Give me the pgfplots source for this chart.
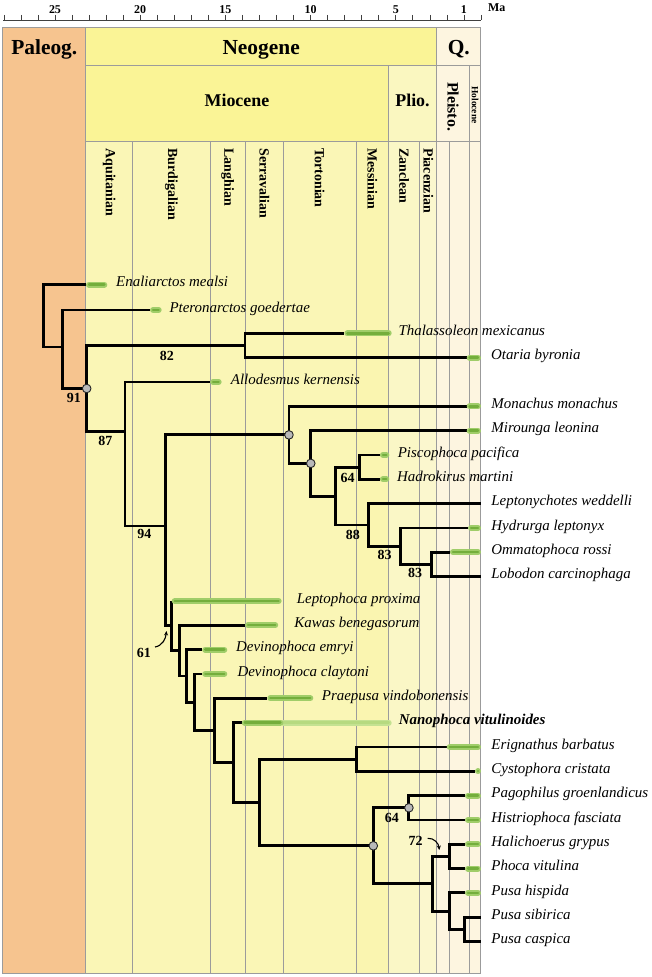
\documentclass[border=0pt]{standalone}
\usepackage{pgfplots}
\pgfplotsset{compat=1.18}
\usepackage{fontspec}
\setmainfont{Liberation Serif}
\usetikzlibrary{arrows.meta}
\definecolor{paleog}{RGB}{246,196,143}
\definecolor{neoY}{RGB}{250,244,150}
\definecolor{plioY}{RGB}{250,247,192}
\definecolor{qC}{RGB}{253,245,224}
\definecolor{mioA}{RGB}{250,246,182}
\definecolor{messA}{RGB}{250,245,176}
\definecolor{plioA}{RGB}{250,247,198}
\definecolor{piacA}{RGB}{251,247,206}
\definecolor{gridgray}{RGB}{155,155,155}
\definecolor{barout}{RGB}{160,205,105}
\definecolor{barin}{RGB}{116,174,60}
\definecolor{lbarout}{RGB}{196,226,146}
\definecolor{lbarin}{RGB}{182,218,128}
\newcommand{\fbar}[3]{%
  \addplot[draw=barout, line width=6bp, line cap=round, shorten <=3bp, shorten >=3bp] coordinates {(#1,#3) (#2,#3)};
  \addplot[draw=barin, line width=2.4bp, line cap=round, shorten <=3bp, shorten >=3bp] coordinates {(#1,#3) (#2,#3)};
}
\newcommand{\gbox}[5]{\filldraw[fill=#5, draw=gridgray, line width=1bp] (axis cs:#1,#3) rectangle (axis cs:#2,#4);}
\begin{document}
\begin{tikzpicture}
\begin{axis}[
  scale only axis, width=478.3bp, height=957bp,
  xmin=0, xmax=28.07, x dir=reverse,
  ymin=-977, ymax=-20,
  axis x line*=top, axis y line=none, ytick=\empty,
  x axis line style={-, black!75, line width=0.8bp},
  xtick={25,20,15,10,5,1},
  xticklabels={\textbf{25},\textbf{20},\textbf{15},\textbf{10},\textbf{5},\textbf{1}},
  minor xtick={0,1,...,28},
  tick align=outside,
  major tick length=5bp, minor tick length=5bp,
  every tick/.style={black!75, line width=0.7bp},
  xticklabel style={font=\fontsize{12}{14}\selectfont\bfseries, inner sep=1bp},
  clip=false,
]
\path (axis cs:28.228,0) rectangle (axis cs:-10.035,-977);
% --- chronostratigraphic boxes ---
\gbox{28.07}{23.2}{-27.3}{-974}{paleog}
\gbox{23.2}{2.6}{-27.3}{-65.3}{neoY}
\gbox{2.6}{0}{-27.3}{-65.3}{qC}
\gbox{23.2}{5.44}{-65.3}{-141.3}{neoY}
\gbox{5.44}{2.6}{-65.3}{-141.3}{plioY}
\gbox{2.6}{0.69}{-65.3}{-141.3}{qC}
\gbox{0.69}{0}{-65.3}{-141.3}{qC}
\gbox{23.2}{20.44}{-141.3}{-974}{mioA}
\gbox{20.44}{15.9}{-141.3}{-974}{mioA}
\gbox{15.9}{13.82}{-141.3}{-974}{mioA}
\gbox{13.82}{11.6}{-141.3}{-974}{mioA}
\gbox{11.6}{7.3}{-141.3}{-974}{mioA}
\gbox{7.3}{5.44}{-141.3}{-974}{messA}
\gbox{5.44}{3.6}{-141.3}{-974}{plioA}
\gbox{3.6}{2.6}{-141.3}{-974}{piacA}
\gbox{2.6}{1.86}{-141.3}{-974}{qC}
\gbox{1.86}{0.69}{-141.3}{-974}{qC}
\gbox{0.69}{0}{-141.3}{-974}{qC}
% header text
\node[anchor=base, inner sep=0, font=\fontsize{21.5}{24}\selectfont\bfseries] at (axis cs:25.63,-55) {Paleog.};
\node[anchor=base, inner sep=0, font=\fontsize{21.5}{24}\selectfont\bfseries] at (axis cs:12.90,-55) {Neogene};
\node[anchor=base, inner sep=0, font=\fontsize{21.5}{24}\selectfont\bfseries] at (axis cs:1.30,-55) {Q.};
\node[anchor=base, inner sep=0, font=\fontsize{18}{20}\selectfont\bfseries] at (axis cs:14.32,-106.7) {Miocene};
\node[anchor=base, inner sep=0, font=\fontsize{18}{20}\selectfont\bfseries] at (axis cs:4.02,-106.7) {Plio.};
\node[rotate=-90, anchor=center, inner sep=0, font=\fontsize{16}{18}\selectfont\bfseries] at (axis cs:1.64,-106.7) {Pleisto.};
\node[rotate=-90, anchor=center, inner sep=0, font=\fontsize{9.5}{11}\selectfont\bfseries] at (axis cs:0.34,-105) {Holocene};
\begin{scope}[every node/.style={rotate=-90, anchor=west, inner sep=0, font=\fontsize{14}{16}\selectfont\bfseries}]
\node at (axis cs:21.82,-148.3) {Aquitanian};
\node at (axis cs:18.17,-148.3) {Burdigalian};
\node at (axis cs:14.86,-148.3) {Langhian};
\node at (axis cs:12.71,-148.3) {Serravalian};
\node at (axis cs:9.47,-148.3) {Tortonian};
\node at (axis cs:6.38,-148.3) {Messinian};
\node at (axis cs:4.51,-148.3) {Zanclean};
\node at (axis cs:3.09,-148.3) {Piacenzian};
\end{scope}
\node[anchor=west, inner sep=0, font=\fontsize{12}{14}\selectfont\bfseries] at (axis cs:-0.41,-7.5) {Ma};
% --- tree ---
\pgfplotsset{tree/.style={black, line width=2.9bp, line join=miter, mark=none}}
\addplot[tree] coordinates {(23.18,-284.7) (25.69,-284.7) (25.69,-347.0) (24.55,-347.0)};
\addplot[tree] coordinates {(19.42,-310.0) (24.55,-310.0) (24.55,-388.5) (23.14,-388.5)};
\addplot[tree] coordinates {(13.85,-345.5) (23.14,-345.5) (23.14,-431.7) (20.89,-431.7)};
\addplot[tree] coordinates {(8.02,-333.4) (13.85,-333.4) (13.85,-357.7) (0.84,-357.7)};
\addplot[tree] coordinates {(15.90,-382.0) (20.89,-382.0) (20.89,-526.0) (18.54,-526.0)};
\addplot[tree] coordinates {(11.27,-434.9) (18.54,-434.9) (18.54,-625.9) (18.15,-625.9)};
\addplot[tree] coordinates {(0.84,-406.4) (11.27,-406.4) (11.27,-463.4) (9.99,-463.4)};
\addplot[tree] coordinates {(0.84,-430.7) (9.99,-430.7) (9.99,-496.1) (8.53,-496.1)};
\addplot[tree] coordinates {(7.12,-467.2) (8.53,-467.2) (8.53,-525.0) (6.61,-525.0)};
\addplot[tree] coordinates {(5.93,-455.0) (7.12,-455.0) (7.12,-479.3) (5.93,-479.3)};
\addplot[tree] coordinates {(0,-503.7) (6.61,-503.7) (6.61,-546.3) (4.75,-546.3)};
\addplot[tree] coordinates {(0.76,-528.0) (4.75,-528.0) (4.75,-564.5) (2.93,-564.5)};
\addplot[tree] coordinates {(1.82,-552.3) (2.93,-552.3) (2.93,-576.7) (0,-576.7)};
\addplot[tree] coordinates {(18.15,-601.0) (18.15,-650.7) (17.71,-650.7)};
\addplot[tree] coordinates {(13.85,-625.3) (17.71,-625.3) (17.71,-676.0) (17.27,-676.0)};
\addplot[tree] coordinates {(16.36,-649.7) (17.27,-649.7) (17.27,-702.3) (16.83,-702.3)};
\addplot[tree] coordinates {(16.36,-674.0) (16.83,-674.0) (16.83,-730.5) (15.65,-730.5)};
\addplot[tree] coordinates {(12.54,-698.3) (15.65,-698.3) (15.65,-762.6) (14.50,-762.6)};
\addplot[tree] coordinates {(14.04,-722.6) (14.50,-722.6) (14.50,-802.5) (13.01,-802.5)};
\addplot[tree] coordinates {(7.29,-759.2) (13.01,-759.2) (13.01,-845.8) (6.32,-845.8)};
\addplot[tree] coordinates {(2.01,-747.0) (7.29,-747.0) (7.29,-771.3) (0.35,-771.3)};
\addplot[tree] coordinates {(4.23,-807.8) (6.32,-807.8) (6.32,-883.8) (2.83,-883.8)};
\addplot[tree] coordinates {(0.94,-795.6) (4.23,-795.6) (4.23,-820.0) (0.94,-820.0)};
\addplot[tree] coordinates {(1.86,-856.5) (2.83,-856.5) (2.83,-911.2) (1.86,-911.2)};
\addplot[tree] coordinates {(0.94,-844.3) (1.86,-844.3) (1.86,-868.6) (0.94,-868.6)};
\addplot[tree] coordinates {(0.94,-892.9) (1.86,-892.9) (1.86,-929.5) (0.98,-929.5)};
\addplot[tree] coordinates {(0,-917.3) (0.98,-917.3) (0.98,-941.6) (0,-941.6)};
% --- stratigraphic range bars ---
\fbar{23.18}{21.93}{-284.7}
\fbar{19.42}{18.74}{-310.0}
\fbar{8.02}{5.24}{-333.4}
\fbar{0.84}{0}{-357.7}
\fbar{15.90}{15.22}{-382.0}
\fbar{0.84}{0}{-406.4}
\fbar{0.84}{0}{-430.7}
\fbar{5.93}{5.38}{-455.0}
\fbar{5.93}{5.38}{-479.3}
\fbar{0.76}{0}{-528.0}
\fbar{1.82}{0}{-552.3}
\fbar{18.15}{11.70}{-601.0}
\fbar{13.85}{11.90}{-625.3}
\fbar{16.36}{14.89}{-649.7}
\fbar{16.36}{14.89}{-674.0}
\fbar{12.54}{9.84}{-698.3}
\addplot[draw=lbarout, line width=6bp, line cap=round, shorten >=3bp] coordinates {(11.60,-722.6) (5.24,-722.6)};
\addplot[draw=lbarin, line width=2.4bp, line cap=round, shorten >=3bp] coordinates {(11.60,-722.6) (5.24,-722.6)};
\fbar{14.04}{11.60}{-722.6}
\fbar{2.01}{0}{-747.0}
\fbar{0.35}{0}{-771.3}
\fbar{0.94}{0}{-795.6}
\fbar{0.94}{0}{-820.0}
\fbar{0.94}{0}{-844.3}
\fbar{0.94}{0}{-868.6}
\fbar{0.94}{0}{-892.9}
% --- node circles ---
\addplot[only marks, mark=*, mark size=4.3bp, mark options={draw=black!85, line width=0.9bp, fill=gray!55}] coordinates {(23.14,-388.5) (11.27,-434.9) (9.99,-463.4) (6.32,-845.8) (4.23,-807.8)};
% --- support values ---
\begin{scope}[every node/.style={inner sep=0, font=\fontsize{14}{16}\selectfont\bfseries}]
\node at (axis cs:23.89,-397.7) {91};
\node at (axis cs:18.43,-356) {82};
\node at (axis cs:22.04,-441) {87};
\node at (axis cs:19.75,-534.3) {94};
\node at (axis cs:7.83,-478.3) {64};
\node at (axis cs:7.52,-535) {88};
\node at (axis cs:5.66,-555) {83};
\node at (axis cs:3.87,-573.3) {83};
\node at (axis cs:19.78,-653) {61};
\node at (axis cs:5.23,-818) {64};
\node at (axis cs:3.84,-840.5) {72};
\end{scope}
\draw[-{Stealth[length=4.5bp,width=4bp]}, line width=1.1bp] (axis cs:19.13,-647) to[out=10, in=-95] (axis cs:18.46,-631);
\draw[-{Stealth[length=4.5bp,width=4bp]}, line width=1.1bp] (axis cs:3.13,-838.3) to[out=5, in=95] (axis cs:2.45,-850);
% --- taxon names ---
\begin{scope}[every node/.style={anchor=mid west, inner sep=0, font=\fontsize{15}{18}\selectfont\itshape}]
\node at (axis cs:21.42,-284.7) {Enaliarctos mealsi};
\node at (axis cs:18.29,-310.0) {Pteronarctos goedertae};
\node at (axis cs:4.85,-333.4) {Thalassoleon mexicanus};
\node at (axis cs:-0.58,-357.7) {Otaria byronia};
\node at (axis cs:14.69,-382.0) {Allodesmus kernensis};
\node at (axis cs:-0.6,-406.4) {Monachus monachus};
\node at (axis cs:-0.6,-430.7) {Mirounga leonina};
\node at (axis cs:4.89,-455.0) {Piscophoca pacifica};
\node at (axis cs:4.93,-479.3) {Hadrokirus martini};
\node at (axis cs:-0.6,-503.7) {Leptonychotes weddelli};
\node at (axis cs:-0.6,-528.0) {Hydrurga leptonyx};
\node at (axis cs:-0.6,-552.3) {Ommatophoca rossi};
\node at (axis cs:-0.6,-576.7) {Lobodon carcinophaga};
\node at (axis cs:10.82,-601.0) {Leptophoca proxima};
\node at (axis cs:10.96,-625.3) {Kawas benegasorum};
\node at (axis cs:14.38,-649.7) {Devinophoca emryi};
\node at (axis cs:14.30,-674.0) {Devinophoca claytoni};
\node at (axis cs:9.35,-698.3) {Praepusa vindobonensis};
\node[font=\fontsize{15}{18}\selectfont\bfseries\itshape] at (axis cs:4.83,-722.6) {Nanophoca vitulinoides};
\node at (axis cs:-0.6,-747.0) {Erignathus barbatus};
\node at (axis cs:-0.6,-771.3) {Cystophora cristata};
\node at (axis cs:-0.6,-795.6) {Pagophilus groenlandicus};
\node at (axis cs:-0.6,-820.0) {Histriophoca fasciata};
\node at (axis cs:-0.6,-844.3) {Halichoerus grypus};
\node at (axis cs:-0.6,-868.6) {Phoca vitulina};
\node at (axis cs:-0.6,-892.9) {Pusa hispida};
\node at (axis cs:-0.6,-917.3) {Pusa sibirica};
\node at (axis cs:-0.6,-941.6) {Pusa caspica};
\end{scope}
\end{axis}
\end{tikzpicture}
\end{document}
